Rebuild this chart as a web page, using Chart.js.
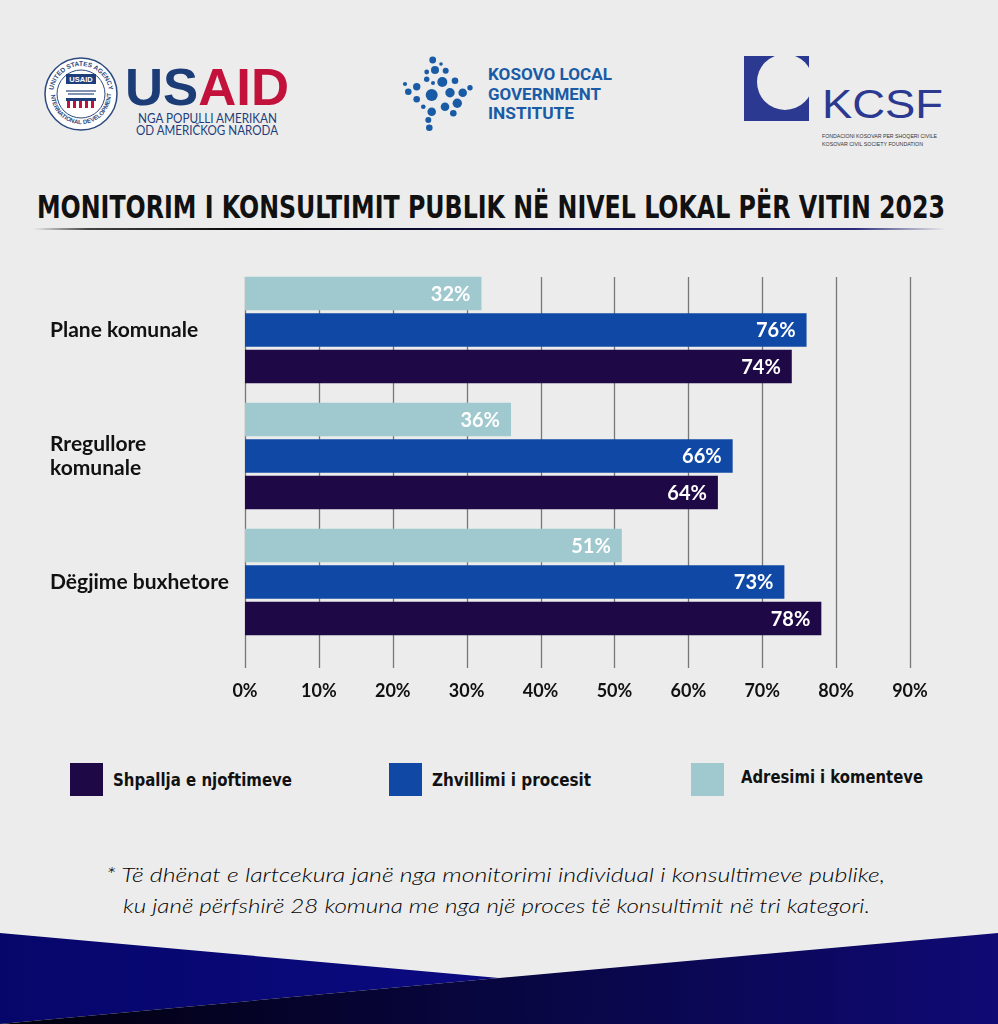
<!DOCTYPE html>
<html>
<head>
<meta charset="utf-8">
<script src="https://cdn.jsdelivr.net/npm/chart.js@4.4.1/dist/chart.umd.min.js"></script>
<style>
  html, body { margin: 0; padding: 0; background: #ececec; }
  #page { position: relative; width: 998px; height: 1024px; overflow: hidden; background: #ececec; }
  #deco { position: absolute; left: 0; top: 0; }
  #chart { position: absolute; left: 0; top: 250px; }
</style>
</head>
<body>
<div id="page">
<svg id="deco" width="998" height="1024" xmlns="http://www.w3.org/2000/svg">
  <defs>
    <linearGradient id="rule" x1="0" x2="1" y1="0" y2="0">
      <stop offset="0" stop-color="#ececec"/>
      <stop offset="0.06" stop-color="#444"/>
      <stop offset="0.25" stop-color="#000"/>
      <stop offset="0.6" stop-color="#15145e"/>
      <stop offset="0.9" stop-color="#2b2b7a"/>
      <stop offset="1" stop-color="#ececec"/>
    </linearGradient>
    <linearGradient id="bandTop" x1="0" x2="1" y1="0" y2="0">
      <stop offset="0" stop-color="#06066a"/>
      <stop offset="1" stop-color="#0b0a82"/>
    </linearGradient>
    <linearGradient id="bandLow" x1="0" x2="1" y1="0" y2="0">
      <stop offset="0" stop-color="#01000c"/>
      <stop offset="0.5" stop-color="#080640"/>
      <stop offset="1" stop-color="#0f0a74"/>
    </linearGradient>
    <path id="sealTop" d="M 53 94 A 28 28 0 0 1 109 94"/>
    <path id="sealBot" d="M 51 94 A 30 30 0 0 0 111 94"/>
  </defs>

  <!-- USAID seal -->
  <circle cx="81" cy="94" r="36" fill="#fff" stroke="#2c4a80" stroke-width="1.5"/>
  <circle cx="81" cy="94" r="24" fill="#fff" stroke="#2c4a80" stroke-width="1"/>
  <text font-family="Liberation Sans, Arial" font-size="6.5" font-weight="bold" fill="#2c4a80">
    <textPath href="#sealTop" startOffset="50%" text-anchor="middle">UNITED STATES AGENCY</textPath>
  </text>
  <text font-family="Liberation Sans, Arial" font-size="6" font-weight="bold" fill="#2c4a80">
    <textPath href="#sealBot" startOffset="50%" text-anchor="middle">INTERNATIONAL DEVELOPMENT</textPath>
  </text>
  <rect x="66" y="74" width="30" height="10" fill="#1f3f7c"/>
  <text x="81" y="82" font-family="Liberation Sans, Arial" font-size="7.5" font-weight="bold" fill="#fff" text-anchor="middle">USAID</text>
  <path d="M 66 91 L 96 91 M 68 94 L 94 94" stroke="#5a6f99" stroke-width="1.3"/>
  <rect x="66" y="98" width="30" height="3" fill="#1f3f7c"/>
  <rect x="67" y="101" width="3" height="7" fill="#c2113a"/>
  <rect x="73" y="101" width="3" height="7" fill="#c2113a"/>
  <rect x="79" y="101" width="3" height="7" fill="#c2113a"/>
  <rect x="85" y="101" width="3" height="7" fill="#c2113a"/>
  <rect x="91" y="101" width="3" height="7" fill="#c2113a"/>

  <!-- USAID wordmark -->
  <text x="125" y="105" font-family="Liberation Sans, Arial" font-size="51" font-weight="bold" textLength="164" lengthAdjust="spacingAndGlyphs"><tspan fill="#1c3c78">US</tspan><tspan fill="#c2113a">AID</tspan></text>
  <text x="138" y="123" font-family="Lato, Liberation Sans" font-size="13.5" fill="#1f3d7a" textLength="139" lengthAdjust="spacingAndGlyphs">NGA POPULLI AMERIKAN</text>
  <text x="136" y="135" font-family="Lato, Liberation Sans" font-size="13.5" fill="#1f3d7a" textLength="142" lengthAdjust="spacingAndGlyphs">OD AMERIČKOG NARODA</text>

  <!-- KLGI dots -->
  <g fill="#1a5ba6">
    <circle cx="432.7" cy="60" r="3.4"/><circle cx="441" cy="64" r="1.8"/>
    <circle cx="426.7" cy="72" r="2.4"/><circle cx="435" cy="70" r="4"/>
    <circle cx="445.7" cy="70.7" r="3"/><circle cx="405" cy="84" r="2.1"/>
    <circle cx="416.7" cy="86.7" r="3.7"/><circle cx="426.7" cy="79.3" r="2.7"/>
    <circle cx="433" cy="83" r="2"/><circle cx="442.3" cy="82" r="5"/>
    <circle cx="455" cy="80.7" r="3.3"/><circle cx="470" cy="87.7" r="2.7"/>
    <circle cx="408.3" cy="91.7" r="3.3"/><circle cx="431.7" cy="95" r="6"/>
    <circle cx="450" cy="92.7" r="4.7"/><circle cx="462.7" cy="92.7" r="4.3"/>
    <circle cx="416.7" cy="99.3" r="3.3"/><circle cx="445" cy="106.7" r="4.3"/>
    <circle cx="457.3" cy="103.3" r="4.7"/><circle cx="423.3" cy="106.7" r="2.3"/>
    <circle cx="431.7" cy="111.7" r="4.3"/><circle cx="453.3" cy="113.3" r="3.3"/>
    <circle cx="428.3" cy="120" r="3"/><circle cx="429.3" cy="127.7" r="3.3"/>
  </g>
  <g font-family="Roboto, Liberation Sans" font-weight="bold" font-size="16" fill="#1a5ba6">
    <text x="488" y="80" textLength="124" lengthAdjust="spacingAndGlyphs">KOSOVO LOCAL</text>
    <text x="488" y="100" textLength="113" lengthAdjust="spacingAndGlyphs">GOVERNMENT</text>
    <text x="488" y="119" textLength="86" lengthAdjust="spacingAndGlyphs">INSTITUTE</text>
  </g>

  <!-- KCSF -->
  <rect x="744" y="56" width="65" height="65" fill="#2b3990"/>
  <circle cx="785" cy="82" r="28" fill="#ececec"/>
  <text x="822" y="118" font-family="Liberation Sans, Arial" font-size="41" fill="#2b3990" textLength="121" lengthAdjust="spacingAndGlyphs">KCSF</text>
  <text x="822" y="138" font-family="Liberation Sans, Arial" font-size="6" fill="#333" textLength="115" lengthAdjust="spacingAndGlyphs">FONDACIONI KOSOVAR PER SHOQERI CIVILE</text>
  <text x="822" y="146" font-family="Liberation Sans, Arial" font-size="6" fill="#333" textLength="101" lengthAdjust="spacingAndGlyphs">KOSOVAR CIVIL SOCIETY FOUNDATION</text>

  <!-- title -->
  <text x="37" y="218" font-family="Liberation Sans Narrow, DejaVu Sans Condensed, Liberation Sans" font-size="32" font-weight="bold" fill="#111" textLength="908" lengthAdjust="spacingAndGlyphs">MONITORIM I KONSULTIMIT PUBLIK NË NIVEL LOKAL PËR VITIN 2023</text>
  <rect x="33" y="228" width="913" height="2" fill="url(#rule)"/>

  <!-- legend (filled by script) -->
  <g id="legend"></g>

  <!-- footnote -->
  <g font-family="Lato, Liberation Sans" font-style="italic" font-weight="300" font-size="20" fill="#000">
    <text x="106" y="882" textLength="779" lengthAdjust="spacingAndGlyphs">*  Të dhënat e lartcekura janë nga monitorimi individual i konsultimeve publike,</text>
    <text x="123" y="913" textLength="747" lengthAdjust="spacingAndGlyphs">ku janë përfshirë 28 komuna me nga një proces të konsultimit në tri kategori.</text>
  </g>

  <!-- bottom band -->
  <polygon points="0,933 499,978 0,1024" fill="url(#bandTop)"/>
  <polygon points="0,1024 499,978 998,933 998,1024" fill="url(#bandLow)"/>
</svg>
<canvas id="chart" width="998" height="480"></canvas>
</div>

<script>
// chart data
var categories = [['Plane komunale'], ['Rregullore', 'komunale'], ['Dëgjime buxhetore']];
var seriesNames = ['Adresimi i komenteve', 'Zhvillimi i procesit', 'Shpallja e njoftimeve'];
var adresimi = [32, 36, 51];
var zhvillimi = [76, 66, 73];
var shpallja = [74, 64, 78];
var xTicks = [0, 10, 20, 30, 40, 50, 60, 70, 80, 90];

var colors = ['#9fc9cf', '#0f48a5', '#1f0846'];

// legend, in reverse dataset order like the original
var legendX = [70, 389, 691];
var legendW = [179, 159, 182];
var legend = document.getElementById('legend');
var ns = 'http://www.w3.org/2000/svg';
seriesNames.slice().reverse().forEach(function (name, i) {
    var c = colors[colors.length - 1 - i];
    var r = document.createElementNS(ns, 'rect');
    r.setAttribute('x', legendX[i]); r.setAttribute('y', 763);
    r.setAttribute('width', 33); r.setAttribute('height', 33);
    r.setAttribute('fill', c);
    legend.appendChild(r);
    var t = document.createElementNS(ns, 'text');
    t.setAttribute('x', legendX[i] + (i === 2 ? 50 : 43));
    t.setAttribute('y', i === 2 ? 783 : 786);
    t.setAttribute('font-family', 'Liberation Sans Narrow, DejaVu Sans Condensed, Liberation Sans');
    t.setAttribute('font-size', '18');
    t.setAttribute('font-weight', 'bold');
    t.setAttribute('fill', '#111');
    t.setAttribute('textLength', legendW[i]);
    t.setAttribute('lengthAdjust', 'spacingAndGlyphs');
    t.textContent = name;
    legend.appendChild(t);
});

// vertical grid lines, drawn under the bars
var gridPlugin = {
    id: 'gridLines',
    beforeDatasetsDraw: function (chart) {
        var ctx = chart.ctx;
        var area = chart.chartArea;
        var xs = chart.scales.x;
        ctx.save();
        ctx.strokeStyle = '#777';
        ctx.lineWidth = 1.3;
        xs.ticks.forEach(function (t) {
            var px = Math.round(xs.getPixelForValue(t.value)) + 0.5;
            ctx.beginPath();
            ctx.moveTo(px, area.top + 10);
            ctx.lineTo(px, area.bottom + 23);
            ctx.stroke();
        });
        ctx.restore();
    }
};

// value labels at the end of each bar
var valuePlugin = {
    id: 'values',
    afterDatasetsDraw: function (chart) {
        var ctx = chart.ctx;
        ctx.save();
        ctx.fillStyle = '#fff';
        ctx.font = 'bold 20px Lato';
        ctx.textAlign = 'right';
        ctx.textBaseline = 'middle';
        chart.data.datasets.forEach(function (ds, i) {
            chart.getDatasetMeta(i).data.forEach(function (bar, j) {
                ctx.fillText(ds.data[j] + '%', bar.x - 11, bar.y + 1);
            });
        });
        ctx.restore();
    }
};

var chart = new Chart(document.getElementById('chart').getContext('2d'), {
    type: 'bar',
    data: {
        labels: categories,
        datasets: [
            { label: seriesNames[0], data: adresimi, backgroundColor: colors[0] },
            { label: seriesNames[1], data: zhvillimi, backgroundColor: colors[1] },
            { label: seriesNames[2], data: shpallja, backgroundColor: colors[2] }
        ]
    },
    options: {
        indexAxis: 'y',
        responsive: false,
        animation: false,
        devicePixelRatio: 1,
        categoryPercentage: 0.87,
        barPercentage: 0.918,
        layout: { padding: { left: 50, right: 88, top: 17, bottom: 0 } },
        plugins: { legend: { display: false }, tooltip: { enabled: false } },
        scales: {
            x: {
                min: xTicks[0],
                max: xTicks[xTicks.length - 1],
                grid: { display: false, drawTicks: false },
                border: { display: false },
                ticks: {
                    stepSize: xTicks[1] - xTicks[0],
                    padding: 35,
                    color: '#111',
                    font: { family: 'Lato', weight: 'bold', size: 18 },
                    callback: function (v) { return v + '%'; }
                },
                afterFit: function (s) { s.height = 85; }
            },
            y: {
                grid: { display: false },
                border: { display: false },
                ticks: {
                    crossAlign: 'far',
                    color: '#111',
                    font: { family: 'Lato', weight: 'bold', size: 21, lineHeight: 1.15 }
                },
                afterFit: function (s) { s.width = 195; }
            }
        }
    },
    plugins: [gridPlugin, valuePlugin]
});
</script>
</body>
</html>
